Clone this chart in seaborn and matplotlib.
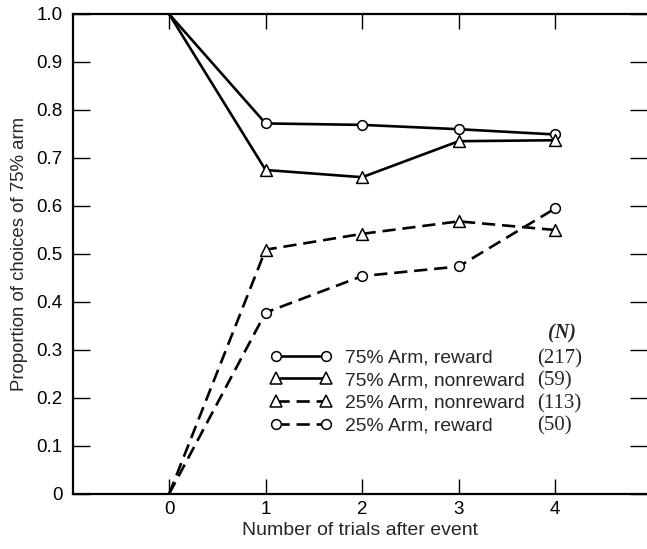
import matplotlib
matplotlib.use("Agg")
import matplotlib.pyplot as plt
from matplotlib.lines import Line2D
import seaborn as sns
import pandas as pd

# Trials after the event
trials = [0, 1, 2, 3, 4]

# Proportion of choices of the 75% arm, per condition
arm75_reward = [1.0, 0.772, 0.769, 0.760, 0.749]
arm75_nonreward = [1.0, 0.675, 0.660, 0.735, 0.737]
arm25_nonreward = [0.0, 0.509, 0.542, 0.568, 0.550]
arm25_reward = [0.0, 0.378, 0.454, 0.474, 0.595]

series_labels = ["75% Arm, reward", "75% Arm, nonreward",
                 "25% Arm, nonreward", "25% Arm, reward"]
series_n = ["(217)", "(59)", "(113)", "(50)"]

y_ticks = [0, 0.1, 0.2, 0.3, 0.4, 0.5, 0.6, 0.7, 0.8, 0.9, 1.0]
y_tick_labels = ["0", "0.1", "0.2", "0.3", "0.4", "0.5", "0.6", "0.7", "0.8", "0.9", "1.0"]

sns.set_theme(style="ticks")
plt.rcParams["font.family"] = ["Liberation Sans", "DejaVu Sans"]

fig = plt.figure(figsize=(6.47, 5.49), dpi=100)
ax = fig.add_axes([72.5 / 647, 55 / 549, (647 - 72.5) / 647, (494 - 14) / 549])

styles = [
    dict(values=arm75_reward, marker="o", ls="-", ms=7),
    dict(values=arm75_nonreward, marker="^", ls="-", ms=8.5),
    dict(values=arm25_nonreward, marker="^", ls=(0, (5, 2.6)), ms=8.5),
    dict(values=arm25_reward, marker="o", ls=(0, (5, 2.6)), ms=7),
]

handles = []
for st, lab in zip(styles, series_labels):
    df = pd.DataFrame({"trial": trials, "prop": st["values"]})
    sub = df.iloc[1:]
    # connecting line from the event itself (trial 0), without a marker
    sns.lineplot(data=df, x="trial", y="prop", ax=ax, color="black",
                 linewidth=1.9, linestyle=st["ls"], legend=False, zorder=2)
    sns.scatterplot(data=sub, x="trial", y="prop", ax=ax, marker=st["marker"],
                    s=st["ms"] ** 2, facecolor="white", edgecolor="black",
                    linewidth=1.1, legend=False, zorder=3)
    handles.append(Line2D([0], [0], color="black", linewidth=1.9, linestyle=st["ls"],
                          marker=st["marker"], markersize=st["ms"],
                          markerfacecolor="white", markeredgecolor="black",
                          markeredgewidth=1.1, label=lab))

ax.set_xlim(-1, 4.95)
ax.set_ylim(0, 1.0)
ax.set_xticks(trials)
ax.set_xticklabels([str(t) for t in trials])
ax.set_yticks(y_ticks)
ax.set_yticklabels(y_tick_labels)

for side in ["left", "bottom", "top"]:
    ax.spines[side].set_linewidth(1.6)
    ax.spines[side].set_color("black")
ax.spines["right"].set_visible(False)

ax.tick_params(axis="y", direction="in", length=12, width=1.0, pad=7,
               labelsize=13.5, colors="black", right=True)
ax.tick_params(axis="y", which="major", labelright=False)
ax.tick_params(axis="x", direction="in", length=11, width=1.0, pad=5,
               labelsize=13.5, colors="black", top=True)

ax.set_xlabel("Number of trials after event", fontsize=14, labelpad=3)
ax.set_ylabel("Proportion of choices of 75% arm", fontsize=13.4, labelpad=6)

leg = fig.legend(handles=handles, loc="upper left",
                 bbox_to_anchor=(270 / 647, 1 - 349 / 549),
                 frameon=False, numpoints=2, handlelength=3.2,
                 handletextpad=0.7, labelspacing=0.27, borderpad=0,
                 borderaxespad=0, prop={"size": 13.9})

# Sample sizes column
row_y = [359, 381, 404, 426]
for n, yy in zip(series_n, row_y):
    fig.text(537 / 647, 1 - yy / 549, n, ha="left", va="center",
             fontsize=15, family="Liberation Serif")
fig.text(562 / 647, 1 - 333 / 549, "(N)", ha="center", va="center",
         fontsize=14.5, family="Liberation Serif", style="italic", weight="bold")

fig.savefig("out.png", dpi=100)
